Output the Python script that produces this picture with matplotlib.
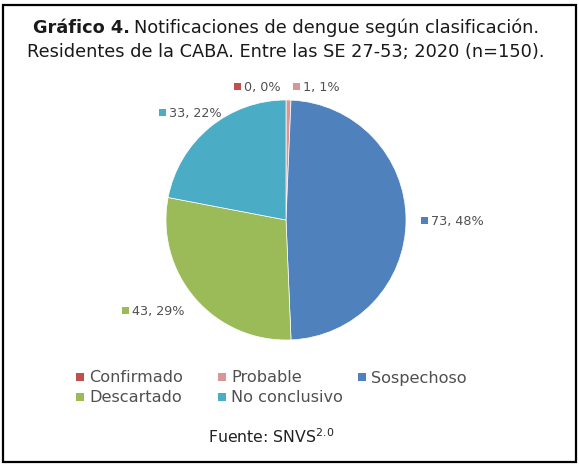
import matplotlib.pyplot as plt
from matplotlib.patches import Rectangle

# datos
categorias = ["Confirmado", "Probable", "Sospechoso", "Descartado", "No conclusivo"]
valores = [0, 1, 73, 43, 33]
porcentajes = ["0%", "1%", "48%", "29%", "22%"]
colores = ["#C0504D", "#D99694", "#4F81BD", "#9BBB59", "#4BACC6"]

plt.rcParams["font.family"] = ["DejaVu Sans"]
gris = "#505050"

W, H = 579, 467
fig = plt.figure(figsize=(W / 100, H / 100), dpi=100)
ax = fig.add_axes([0, 0, 1, 1])

# torta
wedges, _ = ax.pie(valores, colors=colores, startangle=90, counterclock=False,
                   center=(286, H - 220), radius=120,
                   wedgeprops=dict(linewidth=0.5, edgecolor="white"))
ax.set_xlim(0, W)
ax.set_ylim(0, H)
ax.set_aspect("equal")
ax.axis("off")

# marco
ax.add_patch(Rectangle((2.5, H - 462), 573, 457, fill=False, lw=1.6, ec="black"))

t1 = ax.text(33, H - 28, "Gráfico 4.", fontsize=12.8, fontweight="bold", color="#1a1a1a",
             va="center", ha="left")
fig.canvas.draw()
bb = t1.get_window_extent()
ax.text(33 + bb.width + 4, H - 28, "Notificaciones de dengue según clasificación.",
        fontsize=12.8, color="#1a1a1a", va="center", ha="left")
ax.text(27, H - 52, "Residentes de la CABA. Entre las SE 27-53; 2020 (n=150).",
        fontsize=12.8, color="#1a1a1a", va="center", ha="left")

# etiquetas de datos
pos_etiquetas = [(237, 86), (296, 86), (424, 220), (125, 310), (162, 112)]
for (x, y), v, p, c in zip(pos_etiquetas, valores, porcentajes, colores):
    ax.add_patch(Rectangle((x - 3.5, H - y - 3.5), 7, 7, color=c, lw=0))
    ax.text(x + 7, H - y - 4.5, f"{v}, {p}", fontsize=9.2, color=gris,
            va="baseline", ha="left")

# leyenda (columnas de ancho fijo, como en el original)
pos_leyenda = [(80, 377), (222, 377), (362, 377), (80, 397), (222, 397)]
for (x, y), cat, c in zip(pos_leyenda, categorias, colores):
    ax.add_patch(Rectangle((x - 4, H - y - 4), 8, 8, color=c, lw=0))
    ax.text(x + 9, H - y - 5.5, cat, fontsize=11.6, color=gris, va="baseline", ha="left")

ax.text(271, H - 437, r"Fuente: SNVS$^{2.0}$", fontsize=11.3, color="#222222",
        ha="center", va="center")

fig.savefig("out.png", dpi=100)
